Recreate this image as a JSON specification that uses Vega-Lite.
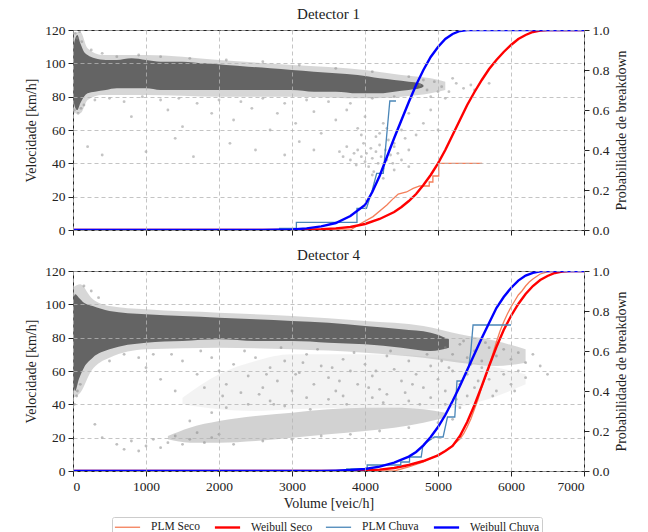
{
  "$schema": "https://vega.github.io/schema/vega-lite/v6.json",
  "padding": {"left": 24, "top": 6, "right": 5, "bottom": 0},
  "background": "white",
  "config": {
    "font": "Liberation Serif",
    "view": {"stroke": "#222", "strokeWidth": 1},
    "axis": {"labelFont": "Liberation Serif", "titleFont": "Liberation Serif", "labelFontSize": 13.5, "titleFontSize": 14, "titleFontWeight": "normal", "labelColor": "#222", "titleColor": "#222", "tickColor": "#222", "domain": false, "tickSize": 5, "labelPadding": 3, "gridColor": "#b5b5b5", "gridDash": [4, 3], "gridWidth": 0.8},
    "title": {"font": "Liberation Serif", "fontSize": 15, "fontWeight": "normal", "color": "#222", "offset": 1},
    "legend": {"labelFont": "Liberation Serif", "labelFontSize": 11.5, "labelColor": "#222"}
  },
  "datasets": {
    "d1core": [
      {"v": 0, "lo": 80, "hi": 108}, {"v": 25, "lo": 74, "hi": 114}, {"v": 60, "lo": 72, "hi": 117}, {"v": 100, "lo": 76, "hi": 112}, {"v": 150, "lo": 80, "hi": 107}, {"v": 200, "lo": 82, "hi": 105}, {"v": 300, "lo": 83, "hi": 103}, {"v": 450, "lo": 84, "hi": 102}, {"v": 600, "lo": 85, "hi": 102}, {"v": 800, "lo": 85, "hi": 103}, {"v": 1000, "lo": 85, "hi": 102}, {"v": 1200, "lo": 84, "hi": 101}, {"v": 1500, "lo": 84, "hi": 101}, {"v": 1800, "lo": 84, "hi": 100}, {"v": 2100, "lo": 84, "hi": 99}, {"v": 2400, "lo": 84, "hi": 98}, {"v": 2700, "lo": 84, "hi": 97}, {"v": 3000, "lo": 84, "hi": 96}, {"v": 3300, "lo": 83, "hi": 95}, {"v": 3600, "lo": 83, "hi": 94}, {"v": 3900, "lo": 82, "hi": 93}, {"v": 4200, "lo": 82, "hi": 91}, {"v": 4400, "lo": 83, "hi": 90}, {"v": 4600, "lo": 84, "hi": 89}, {"v": 4750, "lo": 85, "hi": 88}, {"v": 4800, "lo": 86, "hi": 87}
    ],
    "d1halo": [
      {"v": 0, "lo": 70, "hi": 118}, {"v": 100, "lo": 70, "hi": 119}, {"v": 200, "lo": 78, "hi": 109}, {"v": 400, "lo": 81, "hi": 105}, {"v": 1000, "lo": 81, "hi": 105}, {"v": 2000, "lo": 80, "hi": 102}, {"v": 3000, "lo": 80, "hi": 99}, {"v": 4000, "lo": 79, "hi": 96}, {"v": 4500, "lo": 80, "hi": 93}, {"v": 4900, "lo": 82, "hi": 91}, {"v": 5100, "lo": 84, "hi": 89}
    ],
    "d1pts": [
      {"v": 30, "s": 118}, {"v": 60, "s": 115}, {"v": 90, "s": 119}, {"v": 120, "s": 113}, {"v": 20, "s": 72}, {"v": 70, "s": 70}, {"v": 110, "s": 73}, {"v": 150, "s": 75}, {"v": 250, "s": 108}, {"v": 400, "s": 106}, {"v": 600, "s": 104}, {"v": 900, "s": 105}, {"v": 1200, "s": 104}, {"v": 1600, "s": 103}, {"v": 2100, "s": 102}, {"v": 2600, "s": 101}, {"v": 3100, "s": 99}, {"v": 3600, "s": 97}, {"v": 4100, "s": 95}, {"v": 300, "s": 78}, {"v": 500, "s": 79}, {"v": 700, "s": 77}, {"v": 950, "s": 80}, {"v": 1200, "s": 78}, {"v": 1450, "s": 79}, {"v": 1700, "s": 76}, {"v": 2000, "s": 78}, {"v": 2300, "s": 77}, {"v": 2600, "s": 79}, {"v": 2900, "s": 76}, {"v": 3200, "s": 78}, {"v": 3500, "s": 77}, {"v": 3800, "s": 76}, {"v": 4100, "s": 79}, {"v": 4400, "s": 80},
      {"v": 800, "s": 68}, {"v": 1300, "s": 72}, {"v": 1500, "s": 62}, {"v": 1900, "s": 70}, {"v": 2200, "s": 66}, {"v": 2450, "s": 73}, {"v": 2700, "s": 60}, {"v": 2800, "s": 70}, {"v": 3050, "s": 64}, {"v": 3300, "s": 71}, {"v": 3400, "s": 58}, {"v": 3600, "s": 66}, {"v": 3750, "s": 72}, {"v": 3900, "s": 61}, {"v": 4000, "s": 68}, {"v": 4150, "s": 56}, {"v": 4250, "s": 64}, {"v": 4400, "s": 52}, {"v": 4500, "s": 60}, {"v": 4600, "s": 70}, {"v": 4700, "s": 57}, {"v": 4800, "s": 64}, {"v": 4900, "s": 72}, {"v": 5000, "s": 60},
      {"v": 4750, "s": 87}, {"v": 4850, "s": 84}, {"v": 4950, "s": 89}, {"v": 5050, "s": 86}, {"v": 5150, "s": 83}, {"v": 5250, "s": 88}, {"v": 5350, "s": 85}, {"v": 5500, "s": 84}, {"v": 5700, "s": 88}, {"v": 4600, "s": 92}, {"v": 4900, "s": 80}, {"v": 5100, "s": 79}, {"v": 5200, "s": 91}, {"v": 5450, "s": 87}, {"v": 5000, "s": 83}, {"v": 4800, "s": 90},
      {"v": 200, "s": 50}, {"v": 400, "s": 45}, {"v": 1000, "s": 47}, {"v": 1400, "s": 55}, {"v": 1650, "s": 44}, {"v": 2150, "s": 52}, {"v": 2500, "s": 48}, {"v": 2900, "s": 45}, {"v": 3100, "s": 53}, {"v": 3300, "s": 48},
      {"v": 3650, "s": 47}, {"v": 3700, "s": 44}, {"v": 3750, "s": 50}, {"v": 3800, "s": 42}, {"v": 3850, "s": 46}, {"v": 3880, "s": 39}, {"v": 3900, "s": 48}, {"v": 3950, "s": 44}, {"v": 3980, "s": 52}, {"v": 4000, "s": 41}, {"v": 4020, "s": 46}, {"v": 4050, "s": 38}, {"v": 4080, "s": 49}, {"v": 4100, "s": 43}, {"v": 4120, "s": 35}, {"v": 4150, "s": 47}, {"v": 4180, "s": 40}, {"v": 4200, "s": 51}, {"v": 4220, "s": 44}, {"v": 4250, "s": 37}, {"v": 4280, "s": 48}, {"v": 4300, "s": 42}, {"v": 4320, "s": 54}, {"v": 4350, "s": 45}, {"v": 4380, "s": 40}, {"v": 4400, "s": 50}, {"v": 4450, "s": 46}, {"v": 4500, "s": 42}, {"v": 4550, "s": 55}, {"v": 4600, "s": 48}, {"v": 4200, "s": 58}, {"v": 3950, "s": 57}, {"v": 4300, "s": 61}, {"v": 4100, "s": 33}, {"v": 4250, "s": 31}, {"v": 4400, "s": 36}, {"v": 4600, "s": 38}
    ],
    "d1lines": [
      {"serie": "PLM Seco", "v": 0, "p": 0}, {"serie": "PLM Seco", "v": 3800, "p": 0}, {"serie": "PLM Seco", "v": 3930, "p": 0.03}, {"serie": "PLM Seco", "v": 4110, "p": 0.067}, {"serie": "PLM Seco", "v": 4300, "p": 0.125}, {"serie": "PLM Seco", "v": 4390, "p": 0.158}, {"serie": "PLM Seco", "v": 4455, "p": 0.18}, {"serie": "PLM Seco", "v": 4570, "p": 0.19}, {"serie": "PLM Seco", "v": 4660, "p": 0.208}, {"serie": "PLM Seco", "v": 4750, "p": 0.22}, {"serie": "PLM Seco", "v": 4880, "p": 0.22}, {"serie": "PLM Seco", "v": 4880, "p": 0.24}, {"serie": "PLM Seco", "v": 4930, "p": 0.24}, {"serie": "PLM Seco", "v": 4930, "p": 0.27}, {"serie": "PLM Seco", "v": 5010, "p": 0.27}, {"serie": "PLM Seco", "v": 5010, "p": 0.333}, {"serie": "PLM Seco", "v": 5605, "p": 0.333},
      {"serie": "Weibull Seco", "v": 0, "p": 0}, {"serie": "Weibull Seco", "v": 3000, "p": 0}, {"serie": "Weibull Seco", "v": 3400, "p": 0.004}, {"serie": "Weibull Seco", "v": 3600, "p": 0.008}, {"serie": "Weibull Seco", "v": 3800, "p": 0.015}, {"serie": "Weibull Seco", "v": 4000, "p": 0.03}, {"serie": "Weibull Seco", "v": 4200, "p": 0.055}, {"serie": "Weibull Seco", "v": 4400, "p": 0.09}, {"serie": "Weibull Seco", "v": 4500, "p": 0.115}, {"serie": "Weibull Seco", "v": 4600, "p": 0.145}, {"serie": "Weibull Seco", "v": 4700, "p": 0.18}, {"serie": "Weibull Seco", "v": 4800, "p": 0.225}, {"serie": "Weibull Seco", "v": 4900, "p": 0.275}, {"serie": "Weibull Seco", "v": 5000, "p": 0.333}, {"serie": "Weibull Seco", "v": 5100, "p": 0.4}, {"serie": "Weibull Seco", "v": 5200, "p": 0.475}, {"serie": "Weibull Seco", "v": 5300, "p": 0.55}, {"serie": "Weibull Seco", "v": 5400, "p": 0.625}, {"serie": "Weibull Seco", "v": 5500, "p": 0.69}, {"serie": "Weibull Seco", "v": 5600, "p": 0.75}, {"serie": "Weibull Seco", "v": 5700, "p": 0.805}, {"serie": "Weibull Seco", "v": 5800, "p": 0.85}, {"serie": "Weibull Seco", "v": 5900, "p": 0.89}, {"serie": "Weibull Seco", "v": 6000, "p": 0.925}, {"serie": "Weibull Seco", "v": 6100, "p": 0.955}, {"serie": "Weibull Seco", "v": 6200, "p": 0.975}, {"serie": "Weibull Seco", "v": 6300, "p": 0.99}, {"serie": "Weibull Seco", "v": 6400, "p": 0.997}, {"serie": "Weibull Seco", "v": 6500, "p": 1}, {"serie": "Weibull Seco", "v": 7000, "p": 1},
      {"serie": "PLM Chuva", "v": 0, "p": 0}, {"serie": "PLM Chuva", "v": 2830, "p": 0}, {"serie": "PLM Chuva", "v": 2830, "p": 0.008}, {"serie": "PLM Chuva", "v": 3060, "p": 0.008}, {"serie": "PLM Chuva", "v": 3060, "p": 0.038}, {"serie": "PLM Chuva", "v": 3890, "p": 0.038}, {"serie": "PLM Chuva", "v": 3890, "p": 0.108}, {"serie": "PLM Chuva", "v": 4020, "p": 0.108}, {"serie": "PLM Chuva", "v": 4100, "p": 0.2}, {"serie": "PLM Chuva", "v": 4160, "p": 0.283}, {"serie": "PLM Chuva", "v": 4250, "p": 0.283}, {"serie": "PLM Chuva", "v": 4340, "p": 0.645}, {"serie": "PLM Chuva", "v": 4425, "p": 0.645},
      {"serie": "Weibull Chuva", "v": 0, "p": 0}, {"serie": "Weibull Chuva", "v": 2600, "p": 0}, {"serie": "Weibull Chuva", "v": 3000, "p": 0.003}, {"serie": "Weibull Chuva", "v": 3200, "p": 0.008}, {"serie": "Weibull Chuva", "v": 3400, "p": 0.018}, {"serie": "Weibull Chuva", "v": 3600, "p": 0.035}, {"serie": "Weibull Chuva", "v": 3800, "p": 0.07}, {"serie": "Weibull Chuva", "v": 4000, "p": 0.125}, {"serie": "Weibull Chuva", "v": 4100, "p": 0.19}, {"serie": "Weibull Chuva", "v": 4200, "p": 0.27}, {"serie": "Weibull Chuva", "v": 4300, "p": 0.365}, {"serie": "Weibull Chuva", "v": 4400, "p": 0.46}, {"serie": "Weibull Chuva", "v": 4500, "p": 0.55}, {"serie": "Weibull Chuva", "v": 4600, "p": 0.64}, {"serie": "Weibull Chuva", "v": 4700, "p": 0.725}, {"serie": "Weibull Chuva", "v": 4800, "p": 0.8}, {"serie": "Weibull Chuva", "v": 4900, "p": 0.865}, {"serie": "Weibull Chuva", "v": 5000, "p": 0.915}, {"serie": "Weibull Chuva", "v": 5100, "p": 0.955}, {"serie": "Weibull Chuva", "v": 5200, "p": 0.98}, {"serie": "Weibull Chuva", "v": 5300, "p": 0.995}, {"serie": "Weibull Chuva", "v": 5400, "p": 1}, {"serie": "Weibull Chuva", "v": 7000, "p": 1}
    ],
    "d4core": [
      {"v": 0, "lo": 54, "hi": 102}, {"v": 30, "lo": 48, "hi": 106}, {"v": 80, "lo": 55, "hi": 104}, {"v": 150, "lo": 62, "hi": 101}, {"v": 270, "lo": 68, "hi": 99}, {"v": 500, "lo": 73, "hi": 96}, {"v": 1000, "lo": 77, "hi": 94}, {"v": 1500, "lo": 78, "hi": 93}, {"v": 2000, "lo": 79, "hi": 92}, {"v": 2500, "lo": 78, "hi": 91}, {"v": 3000, "lo": 78, "hi": 90}, {"v": 3500, "lo": 77, "hi": 89}, {"v": 4000, "lo": 76, "hi": 87}, {"v": 4500, "lo": 74, "hi": 85}, {"v": 4900, "lo": 72, "hi": 83}, {"v": 5150, "lo": 74, "hi": 79}
    ],
    "d4halo": [
      {"v": 0, "lo": 44, "hi": 110}, {"v": 100, "lo": 47, "hi": 112}, {"v": 250, "lo": 60, "hi": 104}, {"v": 500, "lo": 68, "hi": 99}, {"v": 1000, "lo": 73, "hi": 97}, {"v": 2000, "lo": 74, "hi": 95}, {"v": 3000, "lo": 73, "hi": 93}, {"v": 4000, "lo": 71, "hi": 90}, {"v": 4800, "lo": 68, "hi": 87}, {"v": 5300, "lo": 65, "hi": 82}, {"v": 5800, "lo": 63, "hi": 78}, {"v": 6200, "lo": 65, "hi": 73}
    ],
    "d4cloud": [
      {"v": 1500, "lo": 40, "hi": 44}, {"v": 2000, "lo": 37, "hi": 58}, {"v": 2500, "lo": 36, "hi": 66}, {"v": 3000, "lo": 37, "hi": 70}, {"v": 4000, "lo": 38, "hi": 70}, {"v": 5000, "lo": 37, "hi": 68}, {"v": 5600, "lo": 42, "hi": 64}, {"v": 6200, "lo": 52, "hi": 58}
    ],
    "d4cong": [
      {"v": 1300, "lo": 19, "hi": 21}, {"v": 1600, "lo": 17, "hi": 26}, {"v": 2000, "lo": 17, "hi": 30}, {"v": 2500, "lo": 18, "hi": 33}, {"v": 3000, "lo": 20, "hi": 35}, {"v": 3500, "lo": 22, "hi": 37}, {"v": 4000, "lo": 24, "hi": 38}, {"v": 4400, "lo": 26, "hi": 38}, {"v": 4800, "lo": 29, "hi": 37}, {"v": 5100, "lo": 32, "hi": 35}
    ],
    "d4pts": [
      {"v": 600, "s": 16}, {"v": 700, "s": 13}, {"v": 800, "s": 18}, {"v": 900, "s": 12}, {"v": 1000, "s": 15}, {"v": 1100, "s": 19}, {"v": 1200, "s": 14}, {"v": 1300, "s": 17}, {"v": 1400, "s": 21}, {"v": 1500, "s": 16}, {"v": 1600, "s": 19}, {"v": 1700, "s": 23}, {"v": 1800, "s": 17}, {"v": 1900, "s": 20}, {"v": 2000, "s": 22}, {"v": 400, "s": 20}, {"v": 300, "s": 28},
      {"v": 2200, "s": 16}, {"v": 2600, "s": 18}, {"v": 3000, "s": 19}, {"v": 3400, "s": 21}, {"v": 3800, "s": 22}, {"v": 4200, "s": 24}, {"v": 4600, "s": 26}, {"v": 5000, "s": 29}, {"v": 5200, "s": 31},
      {"v": 1600, "s": 30}, {"v": 1900, "s": 35}, {"v": 2100, "s": 38}, {"v": 2400, "s": 40}, {"v": 2700, "s": 42}, {"v": 2900, "s": 39}, {"v": 3200, "s": 44}, {"v": 3500, "s": 43}, {"v": 3700, "s": 45}, {"v": 4100, "s": 44}, {"v": 4300, "s": 46}, {"v": 4600, "s": 42}, {"v": 4900, "s": 44}, {"v": 5100, "s": 40}, {"v": 5300, "s": 38}, {"v": 5400, "s": 45},
      {"v": 1000, "s": 62}, {"v": 1200, "s": 55}, {"v": 1400, "s": 48}, {"v": 1500, "s": 66}, {"v": 1700, "s": 58}, {"v": 1800, "s": 50}, {"v": 1900, "s": 68}, {"v": 2000, "s": 60}, {"v": 2100, "s": 52}, {"v": 2200, "s": 64}, {"v": 2300, "s": 47}, {"v": 2400, "s": 57}, {"v": 2500, "s": 68}, {"v": 2600, "s": 50}, {"v": 2700, "s": 62}, {"v": 2800, "s": 54}, {"v": 2900, "s": 66}, {"v": 3000, "s": 48}, {"v": 3100, "s": 59}, {"v": 3200, "s": 70}, {"v": 3300, "s": 52}, {"v": 3400, "s": 63}, {"v": 3500, "s": 56}, {"v": 3600, "s": 48}, {"v": 3700, "s": 67}, {"v": 3800, "s": 60}, {"v": 3900, "s": 52}, {"v": 4000, "s": 64}, {"v": 4100, "s": 57}, {"v": 4200, "s": 49}, {"v": 4300, "s": 69}, {"v": 4400, "s": 61}, {"v": 4500, "s": 54}, {"v": 4600, "s": 66}, {"v": 4700, "s": 58}, {"v": 4800, "s": 50}, {"v": 4900, "s": 63}, {"v": 5000, "s": 55}, {"v": 5100, "s": 48}, {"v": 5200, "s": 60}, {"v": 5300, "s": 52}, {"v": 5400, "s": 58}, {"v": 5500, "s": 50}, {"v": 5600, "s": 62}, {"v": 5700, "s": 55}, {"v": 5800, "s": 48}, {"v": 5900, "s": 58}, {"v": 6000, "s": 52}, {"v": 6100, "s": 60}, {"v": 6200, "s": 56}, {"v": 6400, "s": 63}, {"v": 6500, "s": 58}, {"v": 2050, "s": 45}, {"v": 2550, "s": 46}, {"v": 3050, "s": 58}, {"v": 3550, "s": 62}, {"v": 4050, "s": 50}, {"v": 4550, "s": 47}, {"v": 5050, "s": 66}, {"v": 5550, "s": 54}, {"v": 2650, "s": 58}, {"v": 3150, "s": 65}, {"v": 3650, "s": 54}, {"v": 4150, "s": 60}, {"v": 4650, "s": 52}, {"v": 5150, "s": 62},
      {"v": 2350, "s": 72}, {"v": 2850, "s": 74}, {"v": 3350, "s": 73}, {"v": 3850, "s": 71}, {"v": 4350, "s": 72}, {"v": 4850, "s": 70}, {"v": 1750, "s": 72}, {"v": 1350, "s": 70}, {"v": 2750, "s": 40}, {"v": 3250, "s": 37}, {"v": 3750, "s": 40}, {"v": 4250, "s": 41}, {"v": 4750, "s": 40}, {"v": 5250, "s": 43}, {"v": 5750, "s": 45}, {"v": 6050, "s": 48},
      {"v": 5100, "s": 74}, {"v": 5200, "s": 70}, {"v": 5300, "s": 76}, {"v": 5400, "s": 68}, {"v": 5500, "s": 72}, {"v": 5600, "s": 66}, {"v": 5700, "s": 74}, {"v": 5800, "s": 69}, {"v": 5900, "s": 73}, {"v": 6000, "s": 67}, {"v": 6100, "s": 71}, {"v": 6200, "s": 65}, {"v": 6300, "s": 70}, {"v": 5350, "s": 78}, {"v": 5650, "s": 77}, {"v": 5450, "s": 64},
      {"v": 20, "s": 40}, {"v": 50, "s": 45}, {"v": 100, "s": 52}, {"v": 150, "s": 111}, {"v": 250, "s": 108}, {"v": 350, "s": 104}, {"v": 60, "s": 48}, {"v": 500, "s": 66}, {"v": 700, "s": 70}, {"v": 900, "s": 68}, {"v": 1100, "s": 70}
    ],
    "d4lines": [
      {"serie": "PLM Seco", "v": 0, "p": 0}, {"serie": "PLM Seco", "v": 4400, "p": 0}, {"serie": "PLM Seco", "v": 4600, "p": 0.02}, {"serie": "PLM Seco", "v": 4800, "p": 0.045}, {"serie": "PLM Seco", "v": 5000, "p": 0.08}, {"serie": "PLM Seco", "v": 5100, "p": 0.1}, {"serie": "PLM Seco", "v": 5200, "p": 0.128}, {"serie": "PLM Seco", "v": 5300, "p": 0.16}, {"serie": "PLM Seco", "v": 5350, "p": 0.185}, {"serie": "PLM Seco", "v": 5400, "p": 0.22}, {"serie": "PLM Seco", "v": 5450, "p": 0.26}, {"serie": "PLM Seco", "v": 5500, "p": 0.31}, {"serie": "PLM Seco", "v": 5550, "p": 0.36}, {"serie": "PLM Seco", "v": 5600, "p": 0.42}, {"serie": "PLM Seco", "v": 5650, "p": 0.47}, {"serie": "PLM Seco", "v": 5700, "p": 0.525}, {"serie": "PLM Seco", "v": 5750, "p": 0.585}, {"serie": "PLM Seco", "v": 5800, "p": 0.645}, {"serie": "PLM Seco", "v": 5850, "p": 0.7}, {"serie": "PLM Seco", "v": 5900, "p": 0.745}, {"serie": "PLM Seco", "v": 5950, "p": 0.785}, {"serie": "PLM Seco", "v": 6000, "p": 0.82}, {"serie": "PLM Seco", "v": 6050, "p": 0.85}, {"serie": "PLM Seco", "v": 6100, "p": 0.88}, {"serie": "PLM Seco", "v": 6150, "p": 0.9}, {"serie": "PLM Seco", "v": 6200, "p": 0.925}, {"serie": "PLM Seco", "v": 6250, "p": 0.945}, {"serie": "PLM Seco", "v": 6300, "p": 0.96}, {"serie": "PLM Seco", "v": 6400, "p": 0.985}, {"serie": "PLM Seco", "v": 6500, "p": 0.996}, {"serie": "PLM Seco", "v": 6600, "p": 1},
      {"serie": "Weibull Seco", "v": 0, "p": 0}, {"serie": "Weibull Seco", "v": 3600, "p": 0}, {"serie": "Weibull Seco", "v": 4000, "p": 0.003}, {"serie": "Weibull Seco", "v": 4200, "p": 0.007}, {"serie": "Weibull Seco", "v": 4400, "p": 0.015}, {"serie": "Weibull Seco", "v": 4600, "p": 0.03}, {"serie": "Weibull Seco", "v": 4800, "p": 0.05}, {"serie": "Weibull Seco", "v": 5000, "p": 0.078}, {"serie": "Weibull Seco", "v": 5100, "p": 0.1}, {"serie": "Weibull Seco", "v": 5200, "p": 0.125}, {"serie": "Weibull Seco", "v": 5300, "p": 0.175}, {"serie": "Weibull Seco", "v": 5400, "p": 0.245}, {"serie": "Weibull Seco", "v": 5500, "p": 0.33}, {"serie": "Weibull Seco", "v": 5600, "p": 0.425}, {"serie": "Weibull Seco", "v": 5700, "p": 0.525}, {"serie": "Weibull Seco", "v": 5800, "p": 0.62}, {"serie": "Weibull Seco", "v": 5900, "p": 0.705}, {"serie": "Weibull Seco", "v": 6000, "p": 0.775}, {"serie": "Weibull Seco", "v": 6100, "p": 0.835}, {"serie": "Weibull Seco", "v": 6200, "p": 0.885}, {"serie": "Weibull Seco", "v": 6300, "p": 0.925}, {"serie": "Weibull Seco", "v": 6400, "p": 0.955}, {"serie": "Weibull Seco", "v": 6500, "p": 0.975}, {"serie": "Weibull Seco", "v": 6600, "p": 0.99}, {"serie": "Weibull Seco", "v": 6700, "p": 0.997}, {"serie": "Weibull Seco", "v": 6800, "p": 1}, {"serie": "Weibull Seco", "v": 7000, "p": 1},
      {"serie": "PLM Chuva", "v": 0, "p": 0}, {"serie": "PLM Chuva", "v": 3750, "p": 0}, {"serie": "PLM Chuva", "v": 3750, "p": 0.01}, {"serie": "PLM Chuva", "v": 4030, "p": 0.01}, {"serie": "PLM Chuva", "v": 4030, "p": 0.03}, {"serie": "PLM Chuva", "v": 4490, "p": 0.03}, {"serie": "PLM Chuva", "v": 4490, "p": 0.045}, {"serie": "PLM Chuva", "v": 4610, "p": 0.045}, {"serie": "PLM Chuva", "v": 4610, "p": 0.07}, {"serie": "PLM Chuva", "v": 4770, "p": 0.07}, {"serie": "PLM Chuva", "v": 4790, "p": 0.12}, {"serie": "PLM Chuva", "v": 4830, "p": 0.14}, {"serie": "PLM Chuva", "v": 4950, "p": 0.17}, {"serie": "PLM Chuva", "v": 5070, "p": 0.17}, {"serie": "PLM Chuva", "v": 5130, "p": 0.27}, {"serie": "PLM Chuva", "v": 5230, "p": 0.27}, {"serie": "PLM Chuva", "v": 5260, "p": 0.45}, {"serie": "PLM Chuva", "v": 5330, "p": 0.45}, {"serie": "PLM Chuva", "v": 5420, "p": 0.52}, {"serie": "PLM Chuva", "v": 5450, "p": 0.6}, {"serie": "PLM Chuva", "v": 5480, "p": 0.73}, {"serie": "PLM Chuva", "v": 6000, "p": 0.73},
      {"serie": "Weibull Chuva", "v": 0, "p": 0}, {"serie": "Weibull Chuva", "v": 3400, "p": 0}, {"serie": "Weibull Chuva", "v": 3600, "p": 0.002}, {"serie": "Weibull Chuva", "v": 3800, "p": 0.005}, {"serie": "Weibull Chuva", "v": 4000, "p": 0.01}, {"serie": "Weibull Chuva", "v": 4200, "p": 0.022}, {"serie": "Weibull Chuva", "v": 4400, "p": 0.042}, {"serie": "Weibull Chuva", "v": 4600, "p": 0.072}, {"serie": "Weibull Chuva", "v": 4700, "p": 0.095}, {"serie": "Weibull Chuva", "v": 4800, "p": 0.128}, {"serie": "Weibull Chuva", "v": 4900, "p": 0.17}, {"serie": "Weibull Chuva", "v": 5000, "p": 0.22}, {"serie": "Weibull Chuva", "v": 5100, "p": 0.28}, {"serie": "Weibull Chuva", "v": 5200, "p": 0.35}, {"serie": "Weibull Chuva", "v": 5300, "p": 0.425}, {"serie": "Weibull Chuva", "v": 5400, "p": 0.505}, {"serie": "Weibull Chuva", "v": 5500, "p": 0.585}, {"serie": "Weibull Chuva", "v": 5600, "p": 0.665}, {"serie": "Weibull Chuva", "v": 5700, "p": 0.74}, {"serie": "Weibull Chuva", "v": 5800, "p": 0.815}, {"serie": "Weibull Chuva", "v": 5900, "p": 0.87}, {"serie": "Weibull Chuva", "v": 6000, "p": 0.915}, {"serie": "Weibull Chuva", "v": 6100, "p": 0.952}, {"serie": "Weibull Chuva", "v": 6200, "p": 0.977}, {"serie": "Weibull Chuva", "v": 6300, "p": 0.991}, {"serie": "Weibull Chuva", "v": 6400, "p": 0.998}, {"serie": "Weibull Chuva", "v": 6450, "p": 1}, {"serie": "Weibull Chuva", "v": 7000, "p": 1}
    ]
  },
  "vconcat": [
    {
      "title": "Detector 1",
      "width": 511,
      "height": 200,
      "layer": [
        {
          "layer": [
            {
              "data": {"name": "d1halo"},
              "mark": {"type": "area", "color": "#9a9a9a", "opacity": 0.4, "interpolate": "monotone"},
              "encoding": {
                "x": {"field": "v", "type": "quantitative", "scale": {"domain": [0, 7000], "nice": false}, "axis": {"values": [0, 1000, 2000, 3000, 4000, 5000, 6000, 7000], "labels": false, "title": null, "grid": true, "zindex": 1}},
                "y": {"field": "lo", "type": "quantitative", "scale": {"domain": [0, 120], "nice": false}, "axis": {"orient": "left", "values": [0, 20, 40, 60, 80, 100, 120], "title": "Velocidade [km/h]", "grid": true, "titlePadding": 6, "zindex": 1}},
                "y2": {"field": "hi"}
              }
            },
            {
              "data": {"name": "d1core"},
              "mark": {"type": "area", "color": "#646464", "opacity": 1, "interpolate": "monotone"},
              "encoding": {
                "x": {"field": "v", "type": "quantitative", "scale": {"domain": [0, 7000], "nice": false}, "axis": {"values": [0, 1000, 2000, 3000, 4000, 5000, 6000, 7000], "labels": false, "title": null, "grid": true, "zindex": 1}},
                "y": {"field": "lo", "type": "quantitative", "scale": {"domain": [0, 120], "nice": false}, "axis": {"orient": "left", "values": [0, 20, 40, 60, 80, 100, 120], "title": "Velocidade [km/h]", "grid": true, "titlePadding": 6, "zindex": 1}},
                "y2": {"field": "hi"}
              }
            },
            {
              "data": {"name": "d1pts"},
              "mark": {"type": "circle", "size": 8, "color": "#8a8a8a", "opacity": 0.5},
              "encoding": {
                "x": {"field": "v", "type": "quantitative", "scale": {"domain": [0, 7000], "nice": false}, "axis": {"values": [0, 1000, 2000, 3000, 4000, 5000, 6000, 7000], "labels": false, "title": null, "grid": true, "zindex": 1}},
                "y": {"field": "s", "type": "quantitative", "scale": {"domain": [0, 120], "nice": false}, "axis": {"orient": "left", "values": [0, 20, 40, 60, 80, 100, 120], "title": "Velocidade [km/h]", "grid": true, "titlePadding": 6, "zindex": 1}}
              }
            }
          ]
        },
        {
          "data": {"name": "d1lines"},
          "mark": {"type": "line", "clip": true},
          "encoding": {
            "x": {"field": "v", "type": "quantitative", "scale": {"domain": [0, 7000], "nice": false}, "axis": {"values": [0, 1000, 2000, 3000, 4000, 5000, 6000, 7000], "labels": false, "title": null, "grid": true, "zindex": 1}},
            "y": {"field": "p", "type": "quantitative", "scale": {"domain": [0, 1], "nice": false}, "axis": {"orient": "right", "values": [0, 0.2, 0.4, 0.6, 0.8, 1], "format": ".1f", "grid": false, "title": "Probabilidade de breakdown", "titleAngle": 270, "titleBaseline": "top", "titlePadding": 6}},
            "color": {"field": "serie", "type": "nominal", "scale": {"domain": ["PLM Seco", "Weibull Seco", "PLM Chuva", "Weibull Chuva"], "range": ["#f47f5a", "#ff0000", "#4a86b8", "#0000ff"]}, "legend": null},
            "strokeWidth": {"field": "serie", "type": "nominal", "scale": {"type": "ordinal", "domain": ["PLM Seco", "Weibull Seco", "PLM Chuva", "Weibull Chuva"], "range": [1.3, 2.4, 1.3, 2.4]}, "legend": null}
          }
        }
      ],
      "resolve": {"scale": {"y": "independent"}}
    },
    {
      "title": "Detector 4",
      "width": 511,
      "height": 200,
      "layer": [
        {
          "layer": [
            {
              "data": {"name": "d4cloud"},
              "mark": {"type": "area", "color": "#9a9a9a", "opacity": 0.12, "interpolate": "monotone"},
              "encoding": {
                "x": {"field": "v", "type": "quantitative", "scale": {"domain": [0, 7000], "nice": false}, "axis": {"values": [0, 1000, 2000, 3000, 4000, 5000, 6000, 7000], "format": "d", "title": "Volume [veic/h]", "grid": true, "titlePadding": 4, "zindex": 1}},
                "y": {"field": "lo", "type": "quantitative", "scale": {"domain": [0, 120], "nice": false}, "axis": {"orient": "left", "values": [0, 20, 40, 60, 80, 100, 120], "title": "Velocidade [km/h]", "grid": true, "titlePadding": 6, "zindex": 1}},
                "y2": {"field": "hi"}
              }
            },
            {
              "data": {"name": "d4halo"},
              "mark": {"type": "area", "color": "#9a9a9a", "opacity": 0.4, "interpolate": "monotone"},
              "encoding": {
                "x": {"field": "v", "type": "quantitative", "scale": {"domain": [0, 7000], "nice": false}, "axis": {"values": [0, 1000, 2000, 3000, 4000, 5000, 6000, 7000], "format": "d", "title": "Volume [veic/h]", "grid": true, "titlePadding": 4, "zindex": 1}},
                "y": {"field": "lo", "type": "quantitative", "scale": {"domain": [0, 120], "nice": false}, "axis": {"orient": "left", "values": [0, 20, 40, 60, 80, 100, 120], "title": "Velocidade [km/h]", "grid": true, "titlePadding": 6, "zindex": 1}},
                "y2": {"field": "hi"}
              }
            },
            {
              "data": {"name": "d4cong"},
              "mark": {"type": "area", "color": "#8a8a8a", "opacity": 0.38, "interpolate": "monotone"},
              "encoding": {
                "x": {"field": "v", "type": "quantitative", "scale": {"domain": [0, 7000], "nice": false}, "axis": {"values": [0, 1000, 2000, 3000, 4000, 5000, 6000, 7000], "format": "d", "title": "Volume [veic/h]", "grid": true, "titlePadding": 4, "zindex": 1}},
                "y": {"field": "lo", "type": "quantitative", "scale": {"domain": [0, 120], "nice": false}, "axis": {"orient": "left", "values": [0, 20, 40, 60, 80, 100, 120], "title": "Velocidade [km/h]", "grid": true, "titlePadding": 6, "zindex": 1}},
                "y2": {"field": "hi"}
              }
            },
            {
              "data": {"name": "d4core"},
              "mark": {"type": "area", "color": "#646464", "opacity": 1, "interpolate": "monotone"},
              "encoding": {
                "x": {"field": "v", "type": "quantitative", "scale": {"domain": [0, 7000], "nice": false}, "axis": {"values": [0, 1000, 2000, 3000, 4000, 5000, 6000, 7000], "format": "d", "title": "Volume [veic/h]", "grid": true, "titlePadding": 4, "zindex": 1}},
                "y": {"field": "lo", "type": "quantitative", "scale": {"domain": [0, 120], "nice": false}, "axis": {"orient": "left", "values": [0, 20, 40, 60, 80, 100, 120], "title": "Velocidade [km/h]", "grid": true, "titlePadding": 6, "zindex": 1}},
                "y2": {"field": "hi"}
              }
            },
            {
              "data": {"name": "d4pts"},
              "mark": {"type": "circle", "size": 8, "color": "#8a8a8a", "opacity": 0.55},
              "encoding": {
                "x": {"field": "v", "type": "quantitative", "scale": {"domain": [0, 7000], "nice": false}, "axis": {"values": [0, 1000, 2000, 3000, 4000, 5000, 6000, 7000], "format": "d", "title": "Volume [veic/h]", "grid": true, "titlePadding": 4, "zindex": 1}},
                "y": {"field": "s", "type": "quantitative", "scale": {"domain": [0, 120], "nice": false}, "axis": {"orient": "left", "values": [0, 20, 40, 60, 80, 100, 120], "title": "Velocidade [km/h]", "grid": true, "titlePadding": 6, "zindex": 1}}
              }
            }
          ]
        },
        {
          "data": {"name": "d4lines"},
          "mark": {"type": "line", "clip": true},
          "encoding": {
            "x": {"field": "v", "type": "quantitative", "scale": {"domain": [0, 7000], "nice": false}, "axis": {"values": [0, 1000, 2000, 3000, 4000, 5000, 6000, 7000], "format": "d", "title": "Volume [veic/h]", "grid": true, "titlePadding": 4, "zindex": 1}},
            "y": {"field": "p", "type": "quantitative", "scale": {"domain": [0, 1], "nice": false}, "axis": {"orient": "right", "values": [0, 0.2, 0.4, 0.6, 0.8, 1], "format": ".1f", "grid": false, "title": "Probabilidade de breakdown", "titleAngle": 270, "titleBaseline": "top", "titlePadding": 6}},
            "color": {"field": "serie", "type": "nominal", "scale": {"domain": ["PLM Seco", "Weibull Seco", "PLM Chuva", "Weibull Chuva"], "range": ["#f47f5a", "#ff0000", "#4a86b8", "#0000ff"]}, "legend": {"title": null, "orient": "none", "legendX": 39, "legendY": 246, "direction": "horizontal", "columns": 4, "symbolType": "M-1.8,0H1.8", "symbolSize": 196, "symbolOffset": 5, "columnPadding": 10, "labelOffset": 15, "strokeColor": "#cccccc", "padding": 2, "cornerRadius": 2, "fillColor": "white"}},
            "strokeWidth": {"field": "serie", "type": "nominal", "scale": {"type": "ordinal", "domain": ["PLM Seco", "Weibull Seco", "PLM Chuva", "Weibull Chuva"], "range": [1.3, 2.4, 1.3, 2.4]}, "legend": {"title": null, "orient": "none", "legendX": 39, "legendY": 246, "direction": "horizontal", "columns": 4, "symbolType": "M-1.8,0H1.8", "symbolSize": 196, "symbolOffset": 5, "columnPadding": 10, "labelOffset": 15, "strokeColor": "#cccccc", "padding": 2, "cornerRadius": 2, "fillColor": "white"}}
          }
        }
      ],
      "resolve": {"scale": {"y": "independent"}}
    }
  ],
  "spacing": 10,
  "resolve": {"scale": {"color": "shared", "strokeWidth": "shared"}, "legend": {"color": "independent", "strokeWidth": "independent"}}
}
